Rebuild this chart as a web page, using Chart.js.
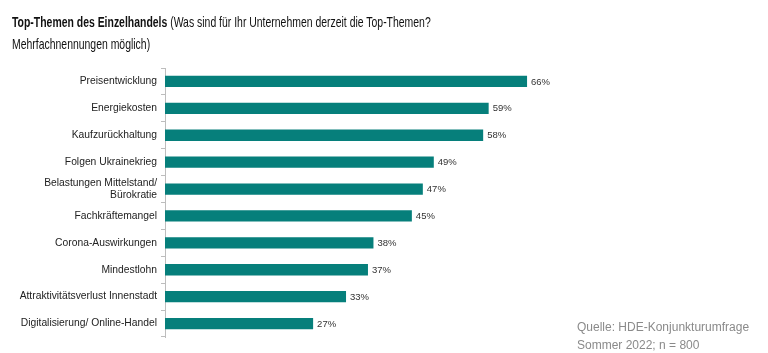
<!DOCTYPE html>
<html><head><meta charset="utf-8">
<script src="https://cdn.jsdelivr.net/npm/chart.js@4"></script>
<style>
html,body{margin:0;padding:0;background:#fff;}
#wrap{position:relative;width:768px;height:353px;overflow:hidden;}
#title{position:absolute;left:12px;top:11px;font-family:"Liberation Sans",Arial,sans-serif;font-size:14.5px;line-height:22px;color:#111;transform:scaleX(0.72);transform-origin:0 0;white-space:nowrap;}
#title b{font-weight:bold;}
#src{position:absolute;left:577px;top:319px;font-family:"Liberation Sans",Arial,sans-serif;font-size:12px;line-height:17.5px;color:#8a8a8a;white-space:nowrap;}
canvas{position:absolute;left:0;top:0;}
</style></head>
<body><div id="wrap">
<canvas id="c" width="768" height="353"></canvas>
<div id="title"><b>Top-Themen des Einzelhandels</b> (Was sind für Ihr Unternehmen derzeit die Top-Themen?<br>Mehrfachnennungen möglich)</div>
<div id="src">Quelle: HDE-Konjunkturumfrage<br>Sommer 2022; n = 800</div>
</div>
<script>
const categories = [
  "Preisentwicklung",
  "Energiekosten",
  "Kaufzurückhaltung",
  "Folgen Ukrainekrieg",
  ["Belastungen Mittelstand/", "Bürokratie"],
  "Fachkräftemangel",
  "Corona-Auswirkungen",
  "Mindestlohn",
  "Attraktivitätsverlust Innenstadt",
  "Digitalisierung/ Online-Handel"
];
const values = [66, 59, 58, 49, 47, 45, 38, 37, 33, 27];

const valueLabels = {
  id: 'valueLabels',
  afterDatasetsDraw(chart) {
    const ctx = chart.ctx;
    const meta = chart.getDatasetMeta(0);
    ctx.save();
    ctx.font = '9.5px "Liberation Sans", Arial, sans-serif';
    ctx.fillStyle = '#333';
    ctx.textAlign = 'left';
    ctx.textBaseline = 'middle';
    meta.data.forEach((bar, i) => {
      ctx.fillText(values[i] + '%', bar.x + 4, bar.y + 0.5);
    });
    ctx.restore();
  }
};

new Chart(document.getElementById('c'), {
  type: 'bar',
  data: {
    labels: categories,
    datasets: [{
      data: values,
      backgroundColor: '#067f7b',
      borderWidth: 0,
      categoryPercentage: 1,
      barPercentage: 0.42
    }]
  },
  options: {
    indexAxis: 'y',
    responsive: false,
    animation: false,
    layout: { padding: { top: 68, bottom: 16, right: 219, left: 0 } },
    plugins: { legend: { display: false }, tooltip: { enabled: false } },
    scales: {
      x: { display: false, min: 0, max: 70 },
      y: {
        afterFit(s) { s.width = 165; },
        border: { display: true, color: '#bdbdbd', width: 1 },
        grid: { offset: true, drawOnChartArea: false, drawTicks: true, tickLength: 4, color: '#bdbdbd' },
        ticks: {
          autoSkip: false,
          color: '#222',
          padding: 4,
          font: { family: '"Liberation Sans", Arial, sans-serif', size: 10.3, lineHeight: 1.2 }
        }
      }
    }
  },
  plugins: [valueLabels]
});
</script>
</body></html>
